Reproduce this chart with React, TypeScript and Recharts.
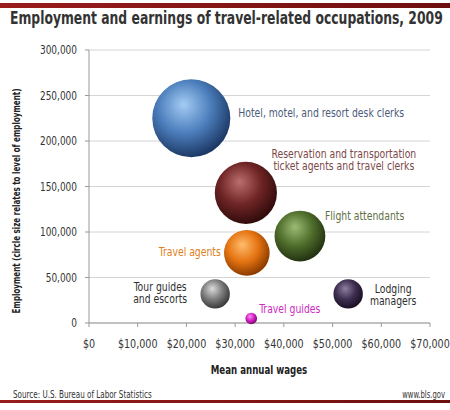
import React from "react";
import { ScatterChart, Scatter, XAxis, YAxis, ZAxis, CartesianGrid } from "recharts";

const occupations = [
  "Hotel, motel, and resort desk clerks",
  "Reservation and transportation ticket agents and travel clerks",
  "Flight attendants",
  "Travel agents",
  "Tour guides and escorts",
  "Lodging managers",
  "Travel guides",
];
const labelLines = [
  ["Hotel, motel, and resort desk clerks"],
  ["Reservation and transportation", "ticket agents and travel clerks"],
  ["Flight attendants"],
  ["Travel agents"],
  ["Tour guides", "and escorts"],
  ["Lodging", "managers"],
  ["Travel guides"],
];
const meanWages = [21000, 32200, 43300, 32400, 25900, 53200, 33300];
const employment = [225000, 143000, 95500, 77000, 32000, 32000, 5000];
const xTicks = [0, 10000, 20000, 30000, 40000, 50000, 60000, 70000];
const yTicks = [0, 50000, 100000, 150000, 200000, 250000, 300000];

const sphereColors = [
  { hi: "#a4ccf4", base: "#4c7ebc", dark: "#1d3a66" },
  { hi: "#bc6e6e", base: "#6e2424", dark: "#320c0c" },
  { hi: "#9cbc74", base: "#4f6d2b", dark: "#233312" },
  { hi: "#ffbc6c", base: "#e57412", dark: "#8c3c00" },
  { hi: "#dcdcdc", base: "#7c7c7c", dark: "#3a3a3a" },
  { hi: "#8e7ea0", base: "#3e2e50", dark: "#1a1024" },
  { hi: "#ff8cf4", base: "#d222c4", dark: "#7a0a70" },
];
const labelColors = ["#4b5b7a", "#7b4848", "#5f6f45", "#e0801a", "#2f2f2f", "#2f2f2f", "#cc2cc0"];
const labelLayout = [
  { dx: 47, dy: [-5], anchor: "start" },
  { dx: 98, dy: [-39, -27], anchor: "middle" },
  { dx: 25, dy: [-20], anchor: "start" },
  { dx: -26, dy: [-1], anchor: "end" },
  { dx: -55, dy: [-7, 5], anchor: "middle" },
  { dx: 45, dy: [-5, 7], anchor: "middle" },
  { dx: 8, dy: [-10], anchor: "start" },
];

const data = occupations.map((name, i) => ({
  name,
  idx: i,
  wage: meanWages[i],
  emp: employment[i],
  z: employment[i],
}));

const FONT = "'DejaVu Sans Condensed', 'Liberation Sans Narrow', sans-serif";

const NText = (p: any) => {
  const { x, y, sx = 0.85, rotate = 0, children, anchor = "start", size = 12, bold = false, color = "#333", dy = "0.35em", textLength } = p;
  return (
    <text
      transform={`translate(${x} ${y}) rotate(${rotate}) scale(${sx} 1)`}
      x={0}
      y={0}
      dy={dy}
      textAnchor={anchor}
      fontFamily={FONT}
      fontSize={size}
      fontWeight={bold ? "bold" : "normal"}
      fill={color}
      textLength={textLength}
      lengthAdjust={textLength ? "spacingAndGlyphs" : undefined}
    >
      {children}
    </text>
  );
};

const Sphere = (props: any) => {
  const { cx, cy, size, payload } = props;
  const i = payload.idx;
  const r = Math.sqrt(size / Math.PI);
  const lay = labelLayout[i];
  return (
    <g>
      <circle cx={cx} cy={cy} r={r} fill={`url(#sph${i})`} />
      {labelLines[i].map((line, k) => (
        <NText key={k} x={cx + lay.dx} y={cy + lay.dy[k]} anchor={lay.anchor} size={12} sx={0.86} color={labelColors[i]}>
          {line}
        </NText>
      ))}
    </g>
  );
};

const fmtMoney = (v: number) => "$" + v.toLocaleString("en-US");
const fmtNum = (v: number) => v.toLocaleString("en-US");

const XTick = (p: any) => (
  <NText x={p.x} y={p.y} anchor="middle" size={13} sx={0.82} dy="0.71em" color="#333">
    {fmtMoney(p.payload.value)}
  </NText>
);
const YTick = (p: any) => (
  <NText x={p.x} y={p.y} anchor="end" size={12} sx={0.83} dy="0.35em" color="#333">
    {fmtNum(p.payload.value)}
  </NText>
);

export default function App() {
  return (
    <div style={{ position: "absolute", left: 0, top: 0, width: 450, height: 410, background: "#fff" }}>
      <ScatterChart width={450} height={410} margin={{ top: 50, right: 20, bottom: 57, left: 0 }}>
        <defs>
          {sphereColors.map((c, i) => (
            <radialGradient key={i} id={`sph${i}`} cx="42%" cy="38%" r="62%" fx="40%" fy="32%">
              <stop offset="0%" stopColor={c.hi} />
              <stop offset="55%" stopColor={c.base} />
              <stop offset="100%" stopColor={c.dark} />
            </radialGradient>
          ))}
          <linearGradient id="redbar" x1="0" y1="0" x2="1" y2="0">
            <stop offset="0%" stopColor="#9a1c1c" />
            <stop offset="100%" stopColor="#6e0e0e" />
          </linearGradient>
        </defs>
        <CartesianGrid vertical={false} stroke="#d4d4d4" />
        <XAxis
          type="number"
          dataKey="wage"
          domain={[0, 70000]}
          ticks={xTicks}
          height={30}
          stroke="#999"
          tickSize={4}
          tickMargin={12}
          tick={XTick}
          interval={0}
        />
        <YAxis
          type="number"
          dataKey="emp"
          domain={[0, 300000]}
          ticks={yTicks}
          width={89}
          stroke="#999"
          tickSize={4}
          tickMargin={8}
          tick={YTick}
          interval={0}
        />
        <ZAxis type="number" dataKey="z" domain={[0, 225000]} range={[0, Math.PI * 39 * 39]} />
        <Scatter data={data} shape={Sphere} isAnimationActive={false} />
        <rect x={0} y={3} width={450} height={5} fill="url(#redbar)" />
        <NText x={10} y={18} size={17} sx={0.75} bold color="#333" textLength={577}>
          Employment and earnings of travel-related occupations, 2009
        </NText>
        <NText x={16} y={201} rotate={-90} anchor="middle" size={11} sx={0.72} bold color="#222">
          Employment (circle size relates to level of employment)
        </NText>
        <NText x={259} y={370} anchor="middle" size={12} sx={0.8} bold color="#222">
          Mean annual wages
        </NText>
        <NText x={13} y={394} size={10} sx={0.8} color="#333">
          Source: U.S. Bureau of Labor Statistics
        </NText>
        <NText x={445} y={394} anchor="end" size={10} sx={0.76} color="#333">
          www.bls.gov
        </NText>
        <rect x={0} y={400} width={450} height={3} fill="url(#redbar)" />
      </ScatterChart>
    </div>
  );
}
